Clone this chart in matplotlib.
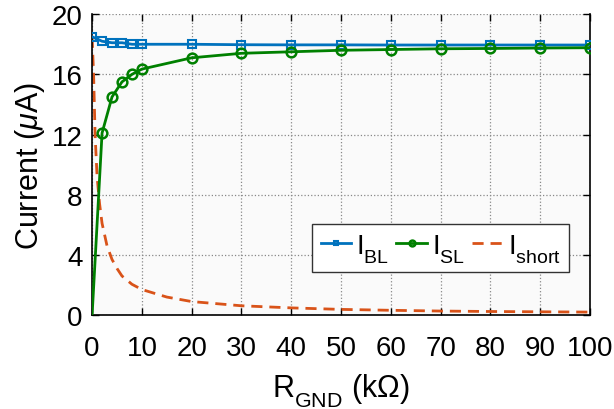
import numpy as np
import matplotlib.pyplot as plt
import matplotlib._mathtext as mt

plt.rcParams['font.family'] = ['Liberation Sans', 'DejaVu Sans']
plt.rcParams['mathtext.fontset'] = 'custom'
plt.rcParams['mathtext.rm'] = 'Liberation Sans'
plt.rcParams['mathtext.it'] = 'Liberation Sans:italic'
# push subscripts a bit lower, like the original tex labels
mt.FontConstantsBase.sub1 = 0.6

# R_GND sweep (kOhm) where markers sit
r_pts = [0, 2, 4, 6, 8, 10, 20, 30, 40, 50, 60, 70, 80, 90, 100]
i_bl = [18.5, 18.2, 18.1, 18.1, 18.0, 18.0, 18.0, 17.97, 17.96, 17.96, 17.95, 17.95, 17.95, 17.95, 17.95]
i_sl = [0.0, 12.1, 14.5, 15.5, 16.0, 16.35, 17.1, 17.4, 17.5, 17.6, 17.65, 17.7, 17.72, 17.75, 17.77]

# short current
r_short = [0, 0.3, 0.6, 1, 1.5, 2, 3, 4, 5, 6, 8, 10, 15, 20, 30, 40, 50, 60, 70, 80, 90, 100]
i_short = [18.5, 16.0, 12.0, 9.2, 7.4, 6.1, 4.6, 3.7, 3.1, 2.6, 2.05, 1.7, 1.2, 0.9, 0.62, 0.48, 0.38, 0.32, 0.27, 0.24, 0.22, 0.2]

fig = plt.figure(figsize=(6.14, 4.10), dpi=100)
ax = fig.add_axes([0.15, 0.229, 0.811, 0.734])
ax.set_facecolor('#fafafa')

ax.plot(r_pts, i_bl, color='#0072BD', lw=2, marker='s', ms=6, mfc='none', mew=1.5,
        label=r'I$_\mathregular{BL}$', zorder=3)
ax.plot(r_pts, i_sl, color='#008000', lw=2, marker='o', ms=7, mfc='none', mew=1.8,
        markevery=list(range(1, len(r_pts))), label=r'I$_\mathregular{SL}$', zorder=3)
ax.plot(r_short, i_short, color='#D95319', lw=2, ls=(0, (4, 2.5)),
        label=r'I$_\mathregular{short}$', zorder=2)

ax.set_xlim(0, 100)
ax.set_ylim(0, 20)
ax.set_xticks(range(0, 101, 10))
ax.set_yticks(range(0, 21, 4))
ax.grid(True, ls=':', color='#888888', lw=0.9)
ax.tick_params(direction='in', length=5, labelsize=20, top=True, right=True, width=1)
ax.tick_params(axis='x', pad=14)
ax.tick_params(axis='y', pad=7)
ax.spines['top'].set_visible(False)
for s in ['left', 'bottom', 'right']:
    ax.spines[s].set_linewidth(1.2)

ax.set_xlabel(r'R$_\mathregular{GND}$ (k$\Omega$)', fontsize=22, labelpad=8)
ax.set_ylabel(r'Current ($\mu$A)', fontsize=22, labelpad=3)

leg = ax.legend(loc='center', bbox_to_anchor=(0.70, 0.2226), ncol=3, fontsize=20,
                handlelength=1.1, handletextpad=0.18, columnspacing=0.25,
                borderpad=0.3, borderaxespad=0, markerscale=0.6, fancybox=False,
                edgecolor='#333333', framealpha=1)
leg.get_frame().set_linewidth(1)

fig.savefig('out.png', dpi=100)
